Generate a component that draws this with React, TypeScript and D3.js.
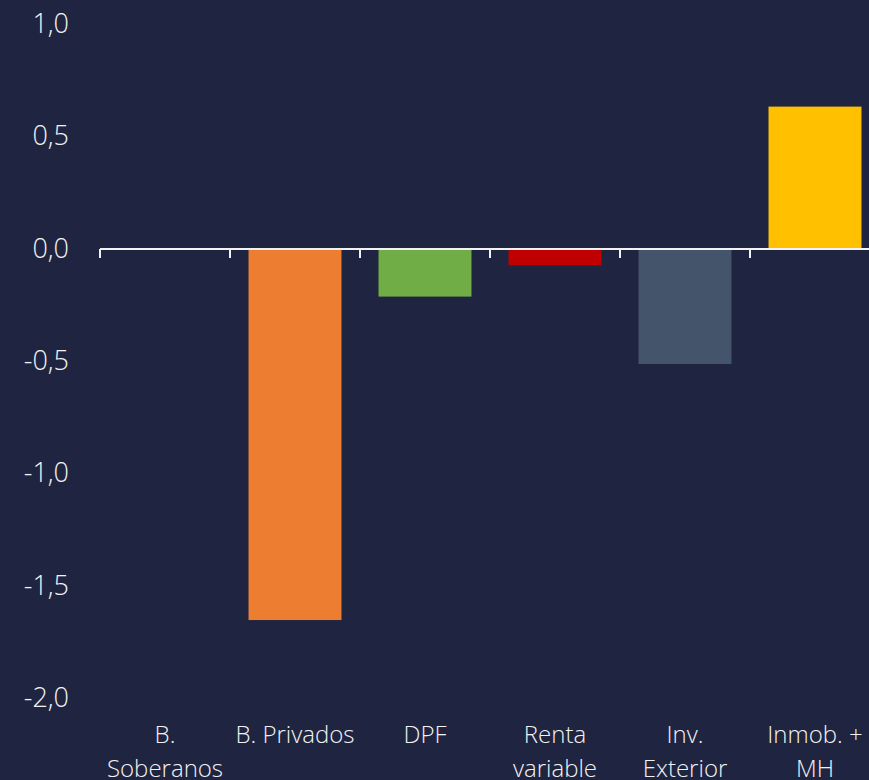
import React, { useRef, useEffect } from "react";
import * as d3 from "d3";

const categories = ["B. Soberanos", "B. Privados", "DPF", "Renta variable", "Inv. Exterior", "Inmob. + MH"];
const labelLines = [["B.", "Soberanos"], ["B. Privados"], ["DPF"], ["Renta", "variable"], ["Inv.", "Exterior"], ["Inmob. +", "MH"]];
const values = [0, -1.652, -0.212, -0.073, -0.512, 0.634];
const colors = ["#5B9BD5", "#ED7D31", "#70AD47", "#C00000", "#44546A", "#FFC000"];
const yTicks = [1, 0.5, 0, -0.5, -1, -1.5, -2];

const W = 869;
const H = 780;
const BG = "#1F2440";

const App = () => {
  const svgRef = useRef<SVGSVGElement>(null);

  useEffect(() => {
    const svg = d3.select(svgRef.current);
    svg.selectAll("*").remove();

    const x = d3.scaleBand().domain(categories).range([100, 880]).paddingInner(0.285).paddingOuter(0.1425);
    const y = d3.scaleLinear().domain([-2, 1]).range([698.2, 24.4]);

    svg.append("rect").attr("width", W).attr("height", H).attr("fill", BG);

    // bars
    svg
      .selectAll(".bar")
      .data(values)
      .join("rect")
      .attr("class", "bar")
      .attr("x", (d, i) => x(categories[i])!)
      .attr("width", x.bandwidth())
      .attr("y", (d) => y(Math.max(0, d)))
      .attr("height", (d) => Math.abs(y(d) - y(0)))
      .attr("fill", (d, i) => colors[i]);

    // y labels
    svg
      .selectAll(".ylab")
      .data(yTicks)
      .join("text")
      .attr("class", "ylab")
      .attr("x", 69)
      .attr("y", (d) => y(d) - 1)
      .attr("dy", "0.36em")
      .attr("text-anchor", "end")
      .attr("fill", "#F2F2F2")
      .style("font-family", "'Open Sans', sans-serif")
      .style("font-weight", 300)
      .style("font-size", "27px")
      .text((d) => d3.format(".1f")(d).replace(".", ",").replace("−", "-"));

    // zero axis with ticks at category boundaries
    const step = x.step();
    const edges = d3.range(categories.length + 1).map((i) => 100 + i * step);
    svg
      .append("line")
      .attr("x1", 100)
      .attr("x2", 880)
      .attr("y1", y(0))
      .attr("y2", y(0))
      .attr("stroke", "#F2F2F2")
      .attr("stroke-width", 2);
    svg
      .selectAll(".tick")
      .data(edges)
      .join("line")
      .attr("class", "tick")
      .attr("x1", (d) => d)
      .attr("x2", (d) => d)
      .attr("y1", y(0))
      .attr("y2", y(0) + 9)
      .attr("stroke", "#F2F2F2")
      .attr("stroke-width", 2);

    // category labels
    const g = svg
      .selectAll(".xlab")
      .data(labelLines)
      .join("text")
      .attr("class", "xlab")
      .attr("text-anchor", "middle")
      .attr("fill", "#F2F2F2")
      .style("font-family", "'Open Sans', sans-serif")
      .style("font-weight", 300)
      .style("font-size", "24px");
    g.selectAll("tspan")
      .data((d, i) => d.map((t) => ({ t, i })))
      .join("tspan")
      .attr("x", (d) => x(categories[d.i])! + x.bandwidth() / 2)
      .attr("y", (d, j) => 743 + j * 34)
      .text((d) => d.t);
  }, []);

  return <svg ref={svgRef} width={W} height={H} style={{ position: "absolute", left: 0, top: 0 }} />;
};

export default App;
